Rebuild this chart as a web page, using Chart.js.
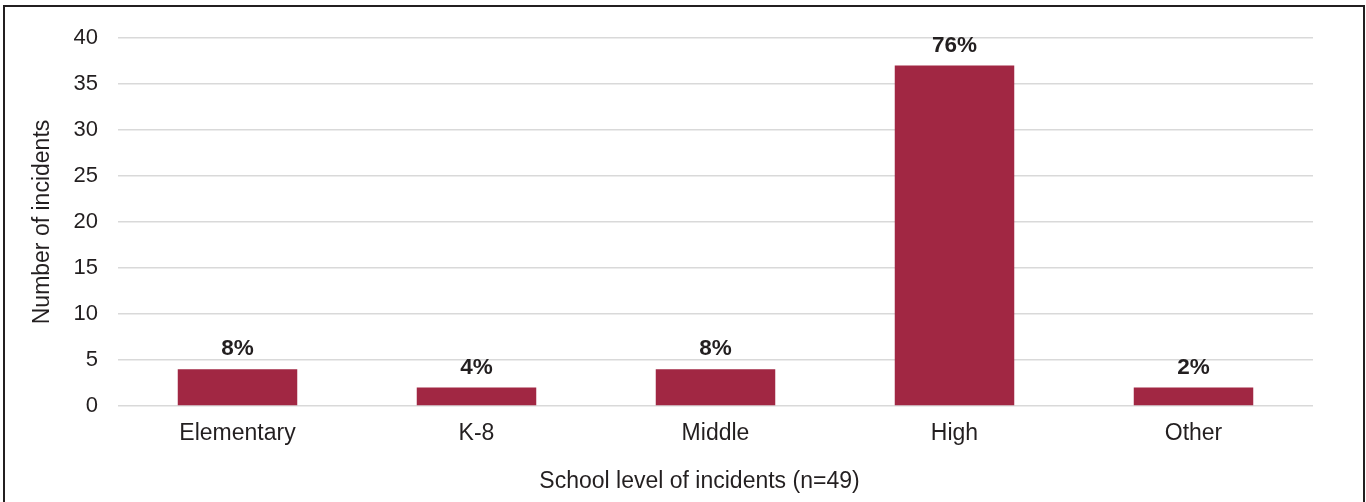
<!DOCTYPE html>
<html>
<head>
<meta charset="utf-8">
<title>School level of incidents</title>
<script src="https://cdn.jsdelivr.net/npm/chart.js@4/dist/chart.umd.min.js"></script>
<style>
  html, body { margin: 0; padding: 0; background: #fff; overflow: hidden; }
  #frame {
    position: absolute; left: 3px; top: 5px; width: 1358px; height: 520px;
    border: 2.5px solid #231f20; border-bottom: none;
  }
  #wrap { position: absolute; left: 0; top: 0; width: 1366px; height: 502px; }
</style>
</head>
<body>
<div id="frame"></div>
<div id="wrap"><canvas id="myChart"></canvas></div>
<script>
// chart data
const categories = ["Elementary", "K-8", "Middle", "High", "Other"];
const incidents = [4, 2, 4, 37, 2];
const percentLabels = ["8%", "4%", "8%", "76%", "2%"];
const yTicks = [0, 5, 10, 15, 20, 25, 30, 35, 40];
const xTitle = 'School level of incidents (n=49)';

const barColor = '#a12743';
const textColor = '#231f20';
const fontFamily = "'Liberation Sans', Arial, sans-serif";

// percentage labels above each bar + x axis title (sits a bit left of centre)
const barLabels = {
    id: 'barLabels',
    afterDatasetsDraw(chart) {
        const ctx = chart.ctx;
        const meta = chart.getDatasetMeta(0);
        ctx.save();
        ctx.font = 'bold 22.5px ' + fontFamily;
        ctx.fillStyle = textColor;
        ctx.textAlign = 'center';
        ctx.textBaseline = 'middle';
        meta.data.forEach(function(bar, i) {
            ctx.fillText(percentLabels[i], bar.x, bar.y - 20);
        });

        const area = chart.chartArea;
        ctx.font = '23px ' + fontFamily;
        ctx.fillText(xTitle, (area.left + area.right) / 2 - 16, chart.height - 20);
        ctx.restore();
    }
};

let popCanvas = document.getElementById("myChart").getContext("2d");
let barChart = new Chart(popCanvas, {
    type: 'bar',
    data: {
        labels: categories,
        datasets: [{
            label: 'Number of incidents',
            data: incidents,
            backgroundColor: barColor,
            categoryPercentage: 1,
            barPercentage: 0.5
        }]
    },
    options: {
        responsive: true,
        maintainAspectRatio: false,
        animation: false,
        layout: { padding: { left: 0, right: 53, top: 38, bottom: 0 } },
        plugins: {
            legend: { display: false },
            tooltip: { enabled: false }
        },
        scales: {
            x: {
                grid: { display: false, drawTicks: false },
                border: { display: false },
                ticks: {
                    color: textColor,
                    padding: 14,
                    font: { size: 23, family: fontFamily }
                },
                afterFit: function(scale) { scale.height = 96; }
            },
            y: {
                min: 0,
                max: 40,
                afterBuildTicks: function(scale) {
                    scale.ticks = yTicks.map(function(v) { return { value: v }; });
                },
                grid: { color: '#d9d9d9', lineWidth: 1.5, drawTicks: false },
                border: { display: false },
                ticks: {
                    color: textColor,
                    padding: 20,
                    font: { size: 22, family: fontFamily }
                },
                title: {
                    display: true,
                    text: 'Number of incidents',
                    color: textColor,
                    font: { size: 23, family: fontFamily },
                    padding: { top: 29, bottom: 0 }
                },
                afterFit: function(scale) { scale.width = 118; }
            }
        }
    },
    plugins: [barLabels]
});
</script>
</body>
</html>
